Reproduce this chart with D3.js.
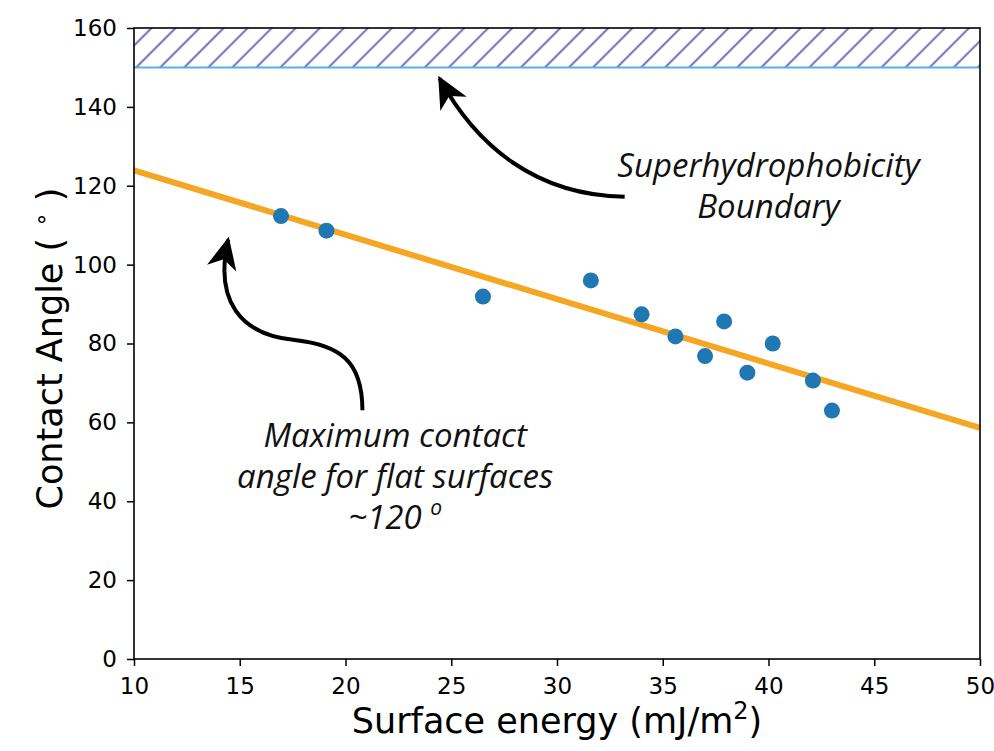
<!DOCTYPE html>
<html lang="en">
<head>
  <meta charset="UTF-8">
  <title>Contact angle vs surface energy</title>
  <script src="https://d3js.org/d3.v7.min.js"></script>
  <style>
    body { margin: 0; background: #fff; }
    .tick text { font-family: "DejaVu Sans", sans-serif; font-size: 23px; fill: #000; }
    .tick line { stroke: #000; stroke-width: 1.5px; }
    .domain { display: none; }
    .axis-label { font-family: "DejaVu Sans", sans-serif; font-size: 35px; fill: #000; }
    .note { font-family: "Open Sans", sans-serif; font-style: italic; font-size: 33px; fill: #111; text-anchor: middle; }
    .arrow { fill: none; stroke: #000; stroke-width: 4px; }
  </style>
</head>
<body>
  <svg width="994" height="751"></svg>
  <script>
    // measured points (surface energy, contact angle)
    const energy = [16.95, 19.1, 26.5, 31.6, 34.0, 35.6, 37.0, 37.9, 39.0, 40.2, 42.1, 43.0];
    const angle  = [112.3, 108.6, 91.9, 96.0, 87.4, 81.8, 76.8, 85.6, 72.6, 80.0, 70.6, 63.0];

    // fitted trend line, end points
    const fitX = [10, 50];
    const fitY = [123.9, 58.6];

    // superhydrophobic band
    const band = [150, 160];

    const xTicks = [10, 15, 20, 25, 30, 35, 40, 45, 50];
    const yTicks = [0, 20, 40, 60, 80, 100, 120, 140, 160];

    // annotation arrows, in data units
    const arrowTop = [[33.2, 117.2], [29.0, 117.6], [26.2, 130.0], [24.45, 147.2]];
    const arrowLow = [[20.8, 63.1], [20.8, 75.8], [19.7, 79.6], [17.6, 80.9],
                      [15.0, 82.2], [13.8, 91.0], [14.45, 106.3]];

    const noteTop = ["Superhydrophobicity", "Boundary"];
    const noteLow = ["Maximum contact", "angle for flat surfaces"];

    const margin = {left: 134, right: 14, top: 28, bottom: 92};
    const width = 994, height = 751;

    const svg = d3.select("svg");

    const x = d3.scaleLinear().domain([10, 50]).range([margin.left, width - margin.right]);
    const y = d3.scaleLinear().domain([0, 160]).range([height - margin.bottom, margin.top]);

    // hatch pattern
    const defs = svg.append("defs");
    defs.append("pattern")
        .attr("id", "hatch")
        .attr("patternUnits", "userSpaceOnUse")
        .attr("width", 17)
        .attr("height", 17)
        .attr("patternTransform", "rotate(45)")
      .append("line")
        .attr("x1", 8).attr("y1", -2)
        .attr("x2", 8).attr("y2", 19)
        .attr("stroke", "#7b7bbd")
        .attr("stroke-width", 2.2);

    defs.append("marker")
        .attr("id", "head")
        .attr("markerUnits", "userSpaceOnUse")
        .attr("viewBox", "-32 -17 36 34")
        .attr("refX", 0).attr("refY", 0)
        .attr("markerWidth", 36).attr("markerHeight", 34)
        .attr("orient", "auto")
      .append("path")
        .attr("d", "M3,0 L-29,-15 L-20,0 L-29,15 Z")
        .attr("fill", "#000");

    // band
    svg.append("rect")
        .attr("x", x(10))
        .attr("y", y(band[1]))
        .attr("width", x(50) - x(10))
        .attr("height", y(band[0]) - y(band[1]))
        .attr("fill", "url(#hatch)");

    svg.append("line")
        .attr("x1", x(10)).attr("x2", x(50))
        .attr("y1", y(band[0])).attr("y2", y(band[0]))
        .attr("stroke", "#5aafe2")
        .attr("stroke-width", 2);

    // fit line
    svg.append("line")
        .attr("x1", x(fitX[0])).attr("y1", y(fitY[0]))
        .attr("x2", x(fitX[1])).attr("y2", y(fitY[1]))
        .attr("stroke", "#f5a623")
        .attr("stroke-width", 6);

    // points
    svg.append("g")
      .selectAll("circle")
      .data(energy.map((e, i) => [e, angle[i]]))
      .join("circle")
        .attr("cx", d => x(d[0]))
        .attr("cy", d => y(d[1]))
        .attr("r", 8)
        .attr("fill", "#1f77b4");

    // axes
    svg.append("g")
        .attr("transform", `translate(0,${y(0)})`)
        .call(d3.axisBottom(x).tickValues(xTicks).tickSize(7).tickPadding(11))
        .selectAll("text").attr("dy", "0.75em");

    svg.append("g")
        .attr("transform", `translate(${x(10)},0)`)
        .call(d3.axisLeft(y).tickValues(yTicks).tickSize(7).tickPadding(10));

    svg.append("rect")
        .attr("x", x(10)).attr("y", y(160))
        .attr("width", x(50) - x(10)).attr("height", y(0) - y(160))
        .attr("fill", "none").attr("stroke", "#000").attr("stroke-width", 1.6);

    // axis labels
    const xl = svg.append("text")
        .attr("class", "axis-label")
        .attr("x", (x(10) + x(50)) / 2)
        .attr("y", 733)
        .attr("text-anchor", "middle");
    xl.append("tspan").text("Surface energy (mJ/m");
    xl.append("tspan").attr("dy", -14).attr("font-size", 24).text("2");
    xl.append("tspan").attr("dy", 14).text(")");

    const yl = svg.append("text")
        .attr("class", "axis-label")
        .attr("transform", `translate(62,${(y(0) + y(160)) / 2 + 5}) rotate(-90)`)
        .attr("text-anchor", "middle");
    yl.append("tspan").text("Contact Angle ( ");
    yl.append("tspan").attr("dy", -13).attr("font-size", 23).text("\u2218");
    yl.append("tspan").attr("dy", 13).text(" )");

    // arrows
    function bez(p) {
      const q = p.map(d => [x(d[0]), y(d[1])]);
      let s = `M${q[0]}`;
      for (let i = 1; i < q.length; i += 3) s += `C${q[i]} ${q[i + 1]} ${q[i + 2]}`;
      return s;
    }
    svg.append("path").attr("class", "arrow").attr("d", bez(arrowTop)).attr("marker-end", "url(#head)");
    svg.append("path").attr("class", "arrow").attr("d", bez(arrowLow)).attr("marker-end", "url(#head)");

    // notes
    svg.append("text").attr("class", "note")
        .selectAll("tspan").data(noteTop).join("tspan")
        .attr("x", x(40))
        .attr("y", (d, i) => y(122.3) + i * 41)
        .text(d => d);

    const low = svg.append("text").attr("class", "note");
    low.selectAll("tspan").data(noteLow).join("tspan")
        .attr("x", x(22.35))
        .attr("y", (d, i) => y(53.7) + i * 41)
        .text(d => d);
    const deg = svg.append("text").attr("class", "note")
        .attr("x", x(22.35)).attr("y", y(53.7) + 82);
    deg.append("tspan").text("~120 ");
    deg.append("tspan").attr("dy", -14).attr("font-size", 21).text("o");
  </script>
</body>
</html>
